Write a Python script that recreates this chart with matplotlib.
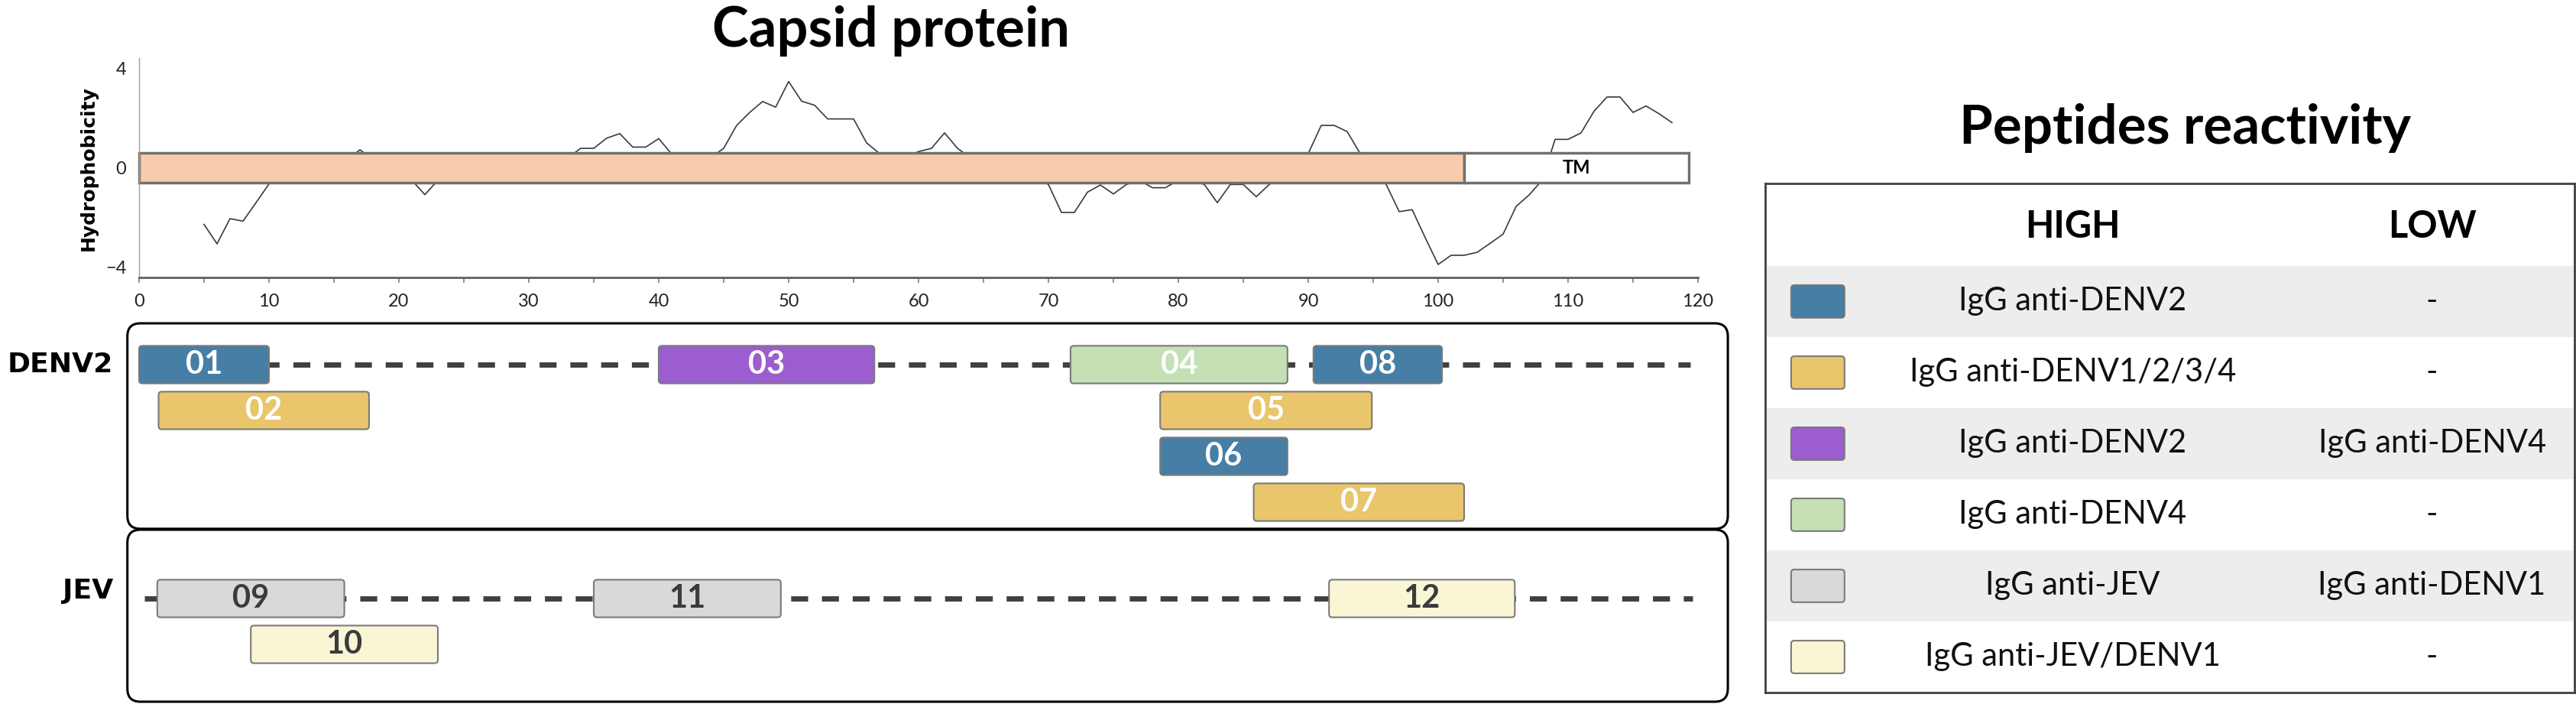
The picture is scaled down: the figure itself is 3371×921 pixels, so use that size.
import matplotlib.pyplot as plt
from matplotlib.patches import FancyBboxPatch, Rectangle

plt.rcParams['font.family'] = ['Lato', 'DejaVu Sans']

W, H = 3371, 921

# hydrophobicity profile of the capsid protein (residue -> score)
residues = list(range(5, 119))
hydro = [-2.27, -3.05, -2.04, -2.14, -1.40, -0.65, -0.30, -0.10, 0.10, 0.00,
         0.20, 0.30, 0.72, 0.35, 0.10, -0.20, -0.50, -1.08, -0.50, -0.30,
         -0.10, 0.00, 0.10, -0.10, 0.00, 0.20, 0.10, 0.30, 0.40, 0.78,
         0.78, 1.19, 1.37, 0.83, 0.83, 1.17, 0.55, 0.30, 0.20, 0.40,
         0.78, 1.70, 2.22, 2.66, 2.43, 3.46, 2.67, 2.51, 1.96, 1.96,
         1.96, 1.00, 0.57, 0.30, 0.40, 0.65, 0.78, 1.40, 0.78, 0.40,
         0.20, 0.10, 0.00, -0.20, -0.40, -0.67, -1.79, -1.79, -0.98, -0.69,
         -1.05, -0.67, -0.50, -0.80, -0.80, -0.50, -0.50, -0.67, -1.40, -0.67,
         -0.67, -1.16, -0.67, -0.30, 0.20, 0.57, 1.70, 1.70, 1.45, 0.57,
         -0.10, -0.67, -1.76, -1.68, -2.80, -3.88, -3.51, -3.51, -3.39, -3.03,
         -2.66, -1.55, -1.09, -0.50, 1.14, 1.14, 1.40, 2.27, 2.84, 2.84,
         2.22, 2.48, 2.17, 1.81]

# domains of the protein
dom_start = [0, 102]
dom_end = [102, 119.3]
dom_label = ['', 'TM']
dom_color = ['#F8CBAD', '#FFFFFF']

# reactivity classes (legend)
cat_colors = ['#467EA6', '#E9C56B', '#9B5DCF', '#C5E0B4', '#D9D9D9', '#FAF6D5']
high_labels = ['IgG anti-DENV2', 'IgG anti-DENV1/2/3/4', 'IgG anti-DENV2',
               'IgG anti-DENV4', 'IgG anti-JEV', 'IgG anti-JEV/DENV1']
low_labels = ['-', '-', 'IgG anti-DENV4', '-', 'IgG anti-DENV1', '-']

# peptides
pep_ids = ['01', '02', '03', '04', '05', '06', '07', '08', '09', '10', '11', '12']
pep_start = [0, 1.5, 40, 71.7, 78.6, 78.6, 85.8, 90.4, 1.4, 8.6, 35, 91.6]
pep_end = [10, 17.7, 56.6, 88.4, 94.9, 88.4, 102, 100.3, 15.8, 23, 49.4, 105.9]
pep_lane = [0, 1, 0, 0, 1, 2, 3, 0, 0, 1, 0, 0]
pep_group = ['DENV2'] * 8 + ['JEV'] * 4
pep_cat = [0, 1, 2, 3, 1, 0, 1, 0, 4, 5, 4, 5]

groups = ['DENV2', 'JEV']


def fx(px):
    return px / W


def fy(py):
    return 1 - py / H


fig = plt.figure(figsize=(W / 100, H / 100), dpi=100)

# --- hydrophobicity plot
ax = fig.add_axes([fx(182), fy(363), fx(2222) - fx(182), fy(76) - fy(363)])
ax.plot(residues, hydro, color='#3a3a3a', lw=1.2, zorder=1)
for s, e, lab, c in zip(dom_start, dom_end, dom_label, dom_color):
    ax.add_patch(Rectangle((s, -0.6), e - s, 1.2, fc=c, ec='#707070', lw=2.5,
                           zorder=2, clip_on=False))
    if lab:
        ax.text((s + e) / 2, 0, lab, ha='center', va='center', fontsize=17,
                fontweight='bold', zorder=3)
ax.set_xlim(0, 120)
ax.set_ylim(-4.4, 4.4)
ax.set_xticks(range(0, 121, 10))
ax.set_xticks(range(5, 120, 10), minor=True)
ax.set_yticks([-4, 0, 4])
ax.tick_params(axis='y', length=0, pad=12, labelsize=17, labelcolor='#222222')
ax.tick_params(axis='x', which='both', length=5, width=1.2, color='#808080',
               pad=10, labelsize=17, labelcolor='#222222')
for sp in ['top', 'right']:
    ax.spines[sp].set_visible(False)
ax.spines['left'].set_color('#a0a0a0')
ax.spines['left'].set_linewidth(1)
ax.spines['bottom'].set_color('#606060')
ax.spines['bottom'].set_linewidth(2)
fig.text(fx(116), fy(220), 'Hydrophobicity', rotation=90, ha='center', va='center',
         fontfamily='DejaVu Sans', fontweight='bold', fontsize=18)

fig.text(fx(1166), fy(40), 'Capsid protein', ha='center', va='center',
         fontsize=52, fontweight='bold')

# --- peptide map
axp = fig.add_axes([fx(182), 0, fx(2222) - fx(182), 521 / H])
axp.set_xlim(0, 120)
axp.set_ylim(7.4, -1.283)
axp.axis('off')
asp = (2040 / 120) / (521 / 8.683)
offset = {'DENV2': 0, 'JEV': 5.1}
frames = {'DENV2': (-0.9, 3.58), 'JEV': (3.6, 7.35)}
dash_end = {'DENV2': (0, 119.4), 'JEV': (0.4, 119.6)}
label_dy = {'DENV2': 0, 'JEV': -0.17}

for g in groups:
    y0, y1 = frames[g]
    axp.add_patch(FancyBboxPatch((-0.9, y0), 123.2, y1 - y0,
                                 boxstyle='round,pad=0,rounding_size=1.0',
                                 mutation_aspect=asp, fc='none', ec='black',
                                 lw=2.2, clip_on=False))
    xa, xb = dash_end[g]
    axp.plot([xa, xb], [offset[g], offset[g]], color='#404040', lw=5,
             ls=(0, (3.2, 2.6)), zorder=1, clip_on=False)
    axp.text(-2.0, offset[g] + label_dy[g], g, ha='right', va='center',
             fontfamily='DejaVu Sans', fontweight='bold', fontsize=26)

for pid, s, e, ln, g, c in zip(pep_ids, pep_start, pep_end, pep_lane, pep_group, pep_cat):
    yc = offset[g] + ln
    axp.add_patch(FancyBboxPatch((s, yc - 0.41), e - s, 0.82,
                                 boxstyle='round,pad=0,rounding_size=0.25',
                                 mutation_aspect=asp, fc=cat_colors[c],
                                 ec='#7a7a7a', lw=1.5, zorder=2, clip_on=False))
    tc = 'white' if c < 4 else '#3b3b3b'
    axp.text((s + e) / 2, yc, pid, ha='center', va='center', fontsize=30,
             fontweight='bold', color=tc, zorder=3)

# --- legend table
axl = fig.add_axes([fx(2310), fy(906), fx(3369) - fx(2310), fy(240) - fy(906)])
axl.set_xlim(0, 1)
axl.set_ylim(0, 7.16)
axl.set_xticks([])
axl.set_yticks([])
for sp in axl.spines.values():
    sp.set_color('#404040')
    sp.set_linewidth(2)
lasp = 1059 / 93
for i, (c, hi, lo) in enumerate(zip(cat_colors, high_labels, low_labels)):
    y0 = 5 - i
    if i % 2 == 0:
        axl.add_patch(Rectangle((0, y0), 1, 1, fc='#EDEDED', ec='none'))
    axl.add_patch(FancyBboxPatch((0.032, y0 + 0.27), 0.066, 0.46,
                                 boxstyle='round,pad=0,rounding_size=0.004',
                                 mutation_aspect=lasp, fc=c, ec='#7a7a7a', lw=1.5))
    axl.text(0.38, y0 + 0.5, hi, ha='center', va='center', fontsize=30, color='#111111')
    axl.text(0.824, y0 + 0.5, lo, ha='center', va='center', fontsize=30, color='#111111')
axl.text(0.38, 6.55, 'HIGH', ha='center', va='center', fontsize=35, fontweight='bold')
axl.text(0.824, 6.55, 'LOW', ha='center', va='center', fontsize=35, fontweight='bold')

fig.text(fx(2860), fy(168), 'Peptides reactivity', ha='center', va='center',
         fontsize=51, fontweight='bold')

fig.savefig('out.png', dpi=100)
